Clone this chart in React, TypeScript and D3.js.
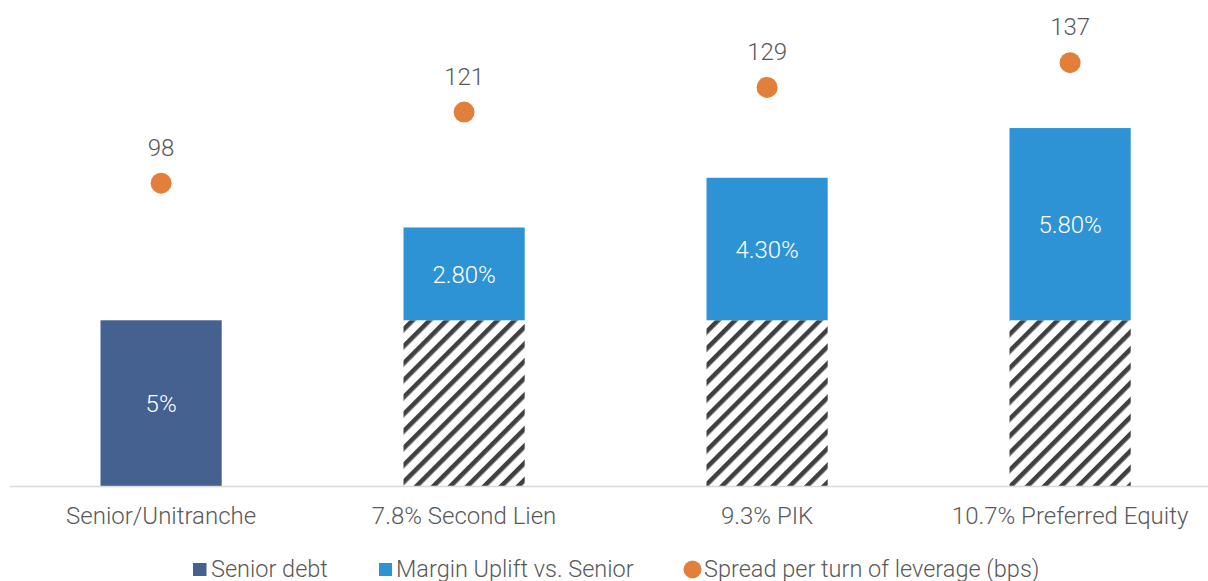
import React from "react";
import * as d3 from "d3";

const categories = ["Senior/Unitranche", "7.8% Second Lien", "9.3% PIK", "10.7% Preferred Equity"];
const seniorDebt = [5, 5, 5, 5];
const marginUplift = [0, 2.8, 4.3, 5.8];
const barLabels = ["5%", "2.80%", "4.30%", "5.80%"];
const spread = [98, 121, 129, 137];

const W = 1208, H = 581;
const FONT = "Roboto, 'Noto Sans', sans-serif";
const TEXT = "#595959";

export default function App() {
  const top = 22, bottom = 486;
  const x = d3.scaleBand<string>().domain(categories).range([9.6, 1221.6]).paddingInner(0.6).paddingOuter(0.3);
  const y = d3.scaleLinear().domain([0, 14]).range([bottom, top]);
  const y2 = d3.scaleLinear().domain([0, 150]).range([bottom, top + 0.5]);
  const bw = x.bandwidth();

  return (
    <svg width={W} height={H} style={{ position: "absolute", left: 0, top: 0 }} fontFamily={FONT}>
      <defs>
        <pattern id="hatch" patternUnits="userSpaceOnUse" width={12} height={12} patternTransform="rotate(45)">
          <rect width={12} height={12} fill="#ffffff" />
          <rect x={0} y={0} width={4.6} height={12} fill="#404040" />
        </pattern>
      </defs>
      <rect width={W} height={H} fill="#ffffff" />
      {categories.map((c, i) => {
        const x0 = x(c)!;
        const cx = x0 + bw / 2;
        const sTop = y(seniorDebt[i]);
        const mTop = y(seniorDebt[i] + marginUplift[i]);
        const first = i === 0;
        return (
          <g key={c}>
            <rect x={x0} y={sTop} width={bw} height={bottom - sTop} fill={first ? "#44618F" : "url(#hatch)"} />
            {marginUplift[i] > 0 && (
              <rect x={x0} y={mTop} width={bw} height={sTop - mTop} fill="#2E93D4" />
            )}
            <text
              x={cx}
              y={(first ? (sTop + bottom) / 2 : (mTop + sTop) / 2) + 9}
              textAnchor="middle"
              fill="#ffffff"
              fontSize={24}
              fontWeight={300}
            >
              {barLabels[i]}
            </text>
            <circle cx={cx} cy={y2(spread[i])} r={10.5} fill="#E27F3A" />
            <text x={cx} y={y2(spread[i]) - 27.5} textAnchor="middle" fill={TEXT} fontSize={24} fontWeight={300}>
              {spread[i]}
            </text>
            <text x={cx} y={524} textAnchor="middle" fill={TEXT} fontSize={24} fontWeight={300}>
              {c}
            </text>
          </g>
        );
      })}
      <line x1={10} x2={1208} y1={bottom + 0.5} y2={bottom + 0.5} stroke="#d9d9d9" strokeWidth={1.5} />
      <g fontSize={23.5} fontWeight={300} fill={TEXT}>
        <rect x={193} y={563} width={13.5} height={13} fill="#44618F" />
        <text x={211} y={577}>Senior debt</text>
        <rect x={379} y={563} width={13} height={13} fill="#2E93D4" />
        <text x={396} y={577}>Margin Uplift vs. Senior</text>
        <circle cx={692.5} cy={569.5} r={9} fill="#E27F3A" />
        <text x={704} y={577}>Spread per turn of leverage (bps)</text>
      </g>
    </svg>
  );
}
